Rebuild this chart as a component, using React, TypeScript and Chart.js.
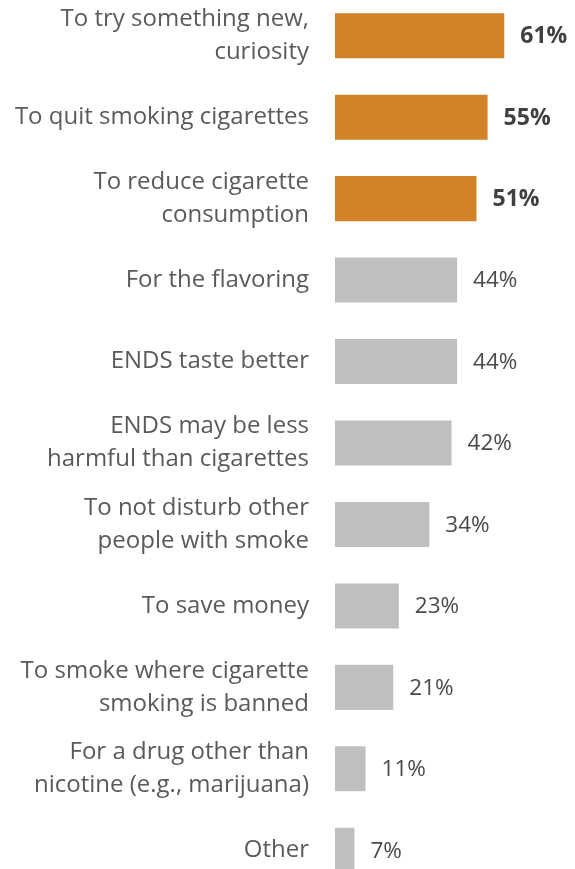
import React, { useEffect, useRef } from "react";
import { Chart, registerables } from "chart.js";

Chart.register(...registerables);

const categories: (string | string[])[] = [
  ["To try something new,", "curiosity"],
  "To quit smoking cigarettes",
  ["To reduce cigarette", "consumption"],
  "For the flavoring",
  "ENDS taste better",
  ["ENDS may be less", "harmful than cigarettes"],
  ["To not disturb other", "people with smoke"],
  "To save money",
  ["To smoke where cigarette", "smoking is banned"],
  ["For a drug other than", "nicotine (e.g., marijuana)"],
  "Other",
];

const values: number[] = [61, 55, 51, 44, 44, 42, 34, 23, 21, 11, 7];

const HIGHLIGHT_COUNT = 3;
const ORANGE = "#D38327";
const GRAY = "#BFBFBF";
const FONT = "'Open Sans', sans-serif";

const valueLabels = {
  id: "valueLabels",
  afterDatasetsDraw(chart: any) {
    const { ctx } = chart;
    const meta = chart.getDatasetMeta(0);
    ctx.save();
    ctx.textBaseline = "middle";
    ctx.textAlign = "left";
    meta.data.forEach((bar: any, i: number) => {
      const bold = i < HIGHLIGHT_COUNT;
      ctx.font = `${bold ? "bold 23px" : "22.5px"} ${FONT}`;
      ctx.fillStyle = bold ? "#404040" : "#4a4a4a";
      ctx.fillText(`${values[i]}%`, bar.x + 16, bar.y + 1);
    });
    ctx.restore();
  },
};

export default function App() {
  const ref = useRef<HTMLCanvasElement | null>(null);
  useEffect(() => {
    if (!ref.current) return;
    const chart = new Chart(ref.current, {
      type: "bar",
      data: {
        labels: categories,
        datasets: [
          {
            data: values,
            backgroundColor: values.map((_, i) => (i < HIGHLIGHT_COUNT ? ORANGE : GRAY)),
            categoryPercentage: 0.553,
            barPercentage: 1,
            borderWidth: 0,
          },
        ],
      },
      options: {
        indexAxis: "y",
        animation: false,
        responsive: false,
        maintainAspectRatio: false,
        layout: { padding: 0 },
        plugins: { legend: { display: false }, tooltip: { enabled: false } },
        scales: {
          x: { display: false, min: 0, max: 86.5 },
          y: {
            grid: { display: false, drawTicks: false },
            border: { display: false },
            ticks: {
              padding: 26,
              color: "#5a5a5a",
              font: { family: FONT, size: 24, lineHeight: 1.375 },
            },
            afterFit(scale: any) {
              scale.width = 335;
              scale.paddingTop = 0;
              scale.paddingBottom = 0;
            },
          },
        },
      },
      plugins: [valueLabels],
    });
    return () => chart.destroy();
  }, []);

  return (
    <div style={{ position: "fixed", left: 0, top: 0, width: 575, height: 869, overflow: "hidden", background: "#fff" }}>
      <div style={{ position: "absolute", left: 0, top: -5, width: 575, height: 896 }}>
        <canvas ref={ref} width={575} height={896} style={{ display: "block" }} />
      </div>
    </div>
  );
}
